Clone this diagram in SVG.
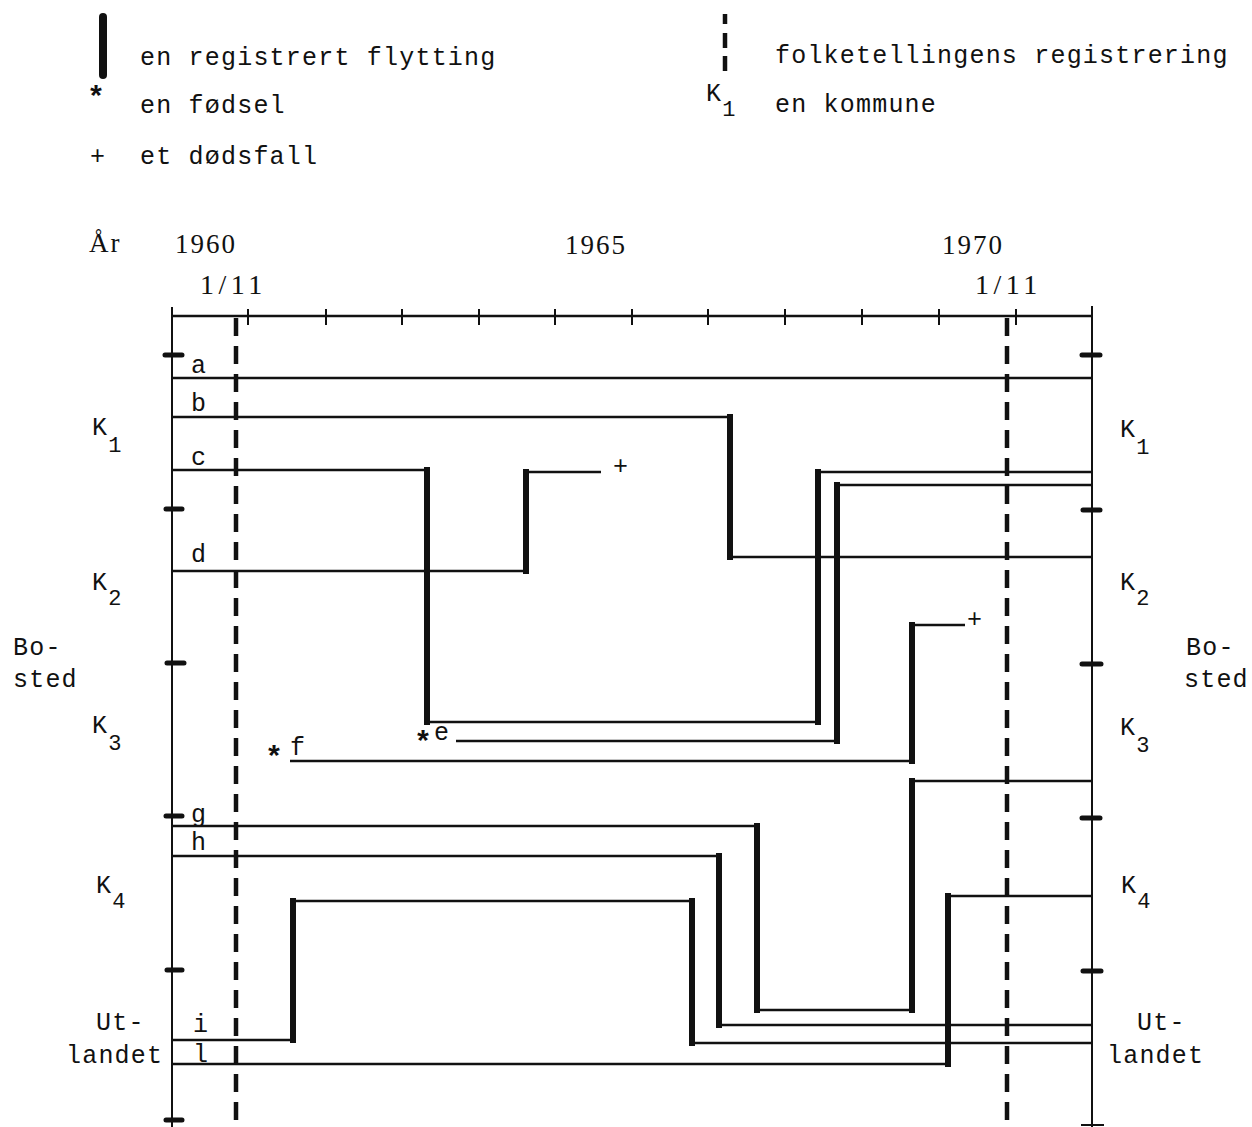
<svg xmlns="http://www.w3.org/2000/svg" width="1252" height="1127" viewBox="0 0 1252 1127">
<style>
.t{font-family:"Liberation Mono",monospace;font-size:25px;letter-spacing:1.2px;fill:#111}
.s{font-family:"Liberation Serif",serif;font-size:27px;letter-spacing:2px;fill:#111}
.d{font-family:"Liberation Serif",serif;font-size:28px;letter-spacing:4.5px;fill:#111}
.ast{font-family:"Liberation Mono",monospace;font-size:30px;font-weight:bold;text-anchor:middle;fill:#111}
.sub{font-size:22px}
.thin{stroke:#111;stroke-width:2.5;fill:none}
.thick{stroke:#111;stroke-width:6;fill:none;stroke-linecap:square}
.dash{stroke:#111;stroke-width:4.5;stroke-dasharray:18 10;fill:none}
.tick{stroke:#111;stroke-width:2;fill:none}
.blob{stroke:#111;stroke-width:5;stroke-linecap:round;fill:none}
</style>
<rect width="1252" height="1127" fill="#fff"/>
<g id="legend">
  <line x1="103" y1="17" x2="103" y2="75" stroke="#111" stroke-width="8" stroke-linecap="round"/>
  <text class="t" x="140" y="65">en registrert flytting</text>
  <text class="ast" x="96" y="107">*</text>
  <text class="t" x="140" y="113">en fødsel</text>
  <text class="t" x="90" y="164">+</text>
  <text class="t" x="140" y="164">et dødsfall</text>
  <line x1="725" y1="14" x2="725" y2="24" stroke="#111" stroke-width="4.5"/>
  <line x1="725" y1="33" x2="725" y2="48" stroke="#111" stroke-width="4.5"/>
  <line x1="725" y1="56" x2="725" y2="71" stroke="#111" stroke-width="4.5"/>
  <text class="t" x="775" y="63">folketellingens registrering</text>
  <text class="t" x="706" y="101">K<tspan class="sub" dy="15">1</tspan></text>
  <text class="t" x="775" y="112">en kommune</text>
</g>
<g id="axis">
  <text class="s" x="89" y="252">År</text>
  <text class="s" x="175" y="253">1960</text>
  <text class="s" x="565" y="254">1965</text>
  <text class="s" x="942" y="254">1970</text>
  <text class="d" x="200" y="294">1/11</text>
  <text class="d" x="975" y="294">1/11</text>
  <line class="thin" x1="172" y1="316" x2="1092" y2="316"/>
  <line class="tick" x1="172" y1="307" x2="172" y2="1127"/>
  <line class="tick" x1="1092" y1="306" x2="1092" y2="1127"/>
  <path class="tick" d="M248,309V325M326,309V325M402,309V325M479,309V325M555,309V325M632,309V325M708,309V325M785,309V325M862,309V325M939,309V325M1016,309V325"/>
  <path class="blob" d="M165,355H182M166,509H182M167,663H184M166,816H182M167,970H182M166,1120H182"/>
  <path class="blob" d="M1082,355H1100M1083,510H1100M1082,664H1101M1082,818H1100M1083,971H1101"/>
  <line class="tick" x1="1081" y1="1125" x2="1104" y2="1125"/>
  <line class="dash" x1="236" y1="318" x2="236" y2="1127"/>
  <line class="dash" x1="1007" y1="318" x2="1007" y2="1127"/>
</g>
<g id="labels-left">
  <text class="t" x="92" y="435">K<tspan class="sub" dy="17">1</tspan></text>
  <text class="t" x="92" y="590">K<tspan class="sub" dy="15">2</tspan></text>
  <text class="t" x="13" y="655">Bo-</text>
  <text class="t" x="13" y="687">sted</text>
  <text class="t" x="92" y="733">K<tspan class="sub" dy="17">3</tspan></text>
  <text class="t" x="96" y="893">K<tspan class="sub" dy="15">4</tspan></text>
  <text class="t" x="96" y="1030">Ut-</text>
  <text class="t" x="66" y="1063">landet</text>
</g>
<g id="labels-right">
  <text class="t" x="1120" y="437">K<tspan class="sub" dy="17">1</tspan></text>
  <text class="t" x="1120" y="590">K<tspan class="sub" dy="15">2</tspan></text>
  <text class="t" x="1186" y="655">Bo-</text>
  <text class="t" x="1184" y="687">sted</text>
  <text class="t" x="1120" y="735">K<tspan class="sub" dy="17">3</tspan></text>
  <text class="t" x="1121" y="893">K<tspan class="sub" dy="15">4</tspan></text>
  <text class="t" x="1137" y="1030">Ut-</text>
  <text class="t" x="1107" y="1063">landet</text>
</g>
<g id="connectors">
  <g id="a">
    <text class="t" x="191" y="373">a</text>
    <path class="thin" d="M172,378H1092"/>
  </g>
  <g id="b">
    <text class="t" x="191" y="411">b</text>
    <path class="thin" d="M172,417H730M730,557H1092"/>
    <path class="thick" d="M730,417V557"/>
  </g>
  <g id="c">
    <text class="t" x="191" y="465">c</text>
    <path class="thin" d="M172,470H427M427,722H818M818,472H1092"/>
    <path class="thick" d="M427,470V722M818,722V472"/>
  </g>
  <g id="d">
    <text class="t" x="191" y="562">d</text>
    <path class="thin" d="M172,571H526M526,472H601"/>
    <path class="thick" d="M526,571V472"/>
    <text class="t" x="613" y="474">+</text>
  </g>
  <g id="e">
    <text class="ast" x="423" y="752">*</text>
    <text class="t" x="434" y="740">e</text>
    <path class="thin" d="M456,741H837M837,485H1092"/>
    <path class="thick" d="M837,741V485"/>
  </g>
  <g id="f">
    <text class="ast" x="274" y="767">*</text>
    <text class="t" x="290" y="755">f</text>
    <path class="thin" d="M290,761H912M912,625H965"/>
    <path class="thick" d="M912,761V625"/>
    <text class="t" x="967" y="627">+</text>
  </g>
  <g id="g">
    <text class="t" x="191" y="822">g</text>
    <path class="thin" d="M172,826H757M757,1010H912M912,781H1092"/>
    <path class="thick" d="M757,826V1010M912,1010V781"/>
  </g>
  <g id="h">
    <text class="t" x="191" y="850">h</text>
    <path class="thin" d="M172,856H719M719,1025H1092"/>
    <path class="thick" d="M719,856V1025"/>
  </g>
  <g id="i">
    <text class="t" x="193" y="1032">i</text>
    <path class="thin" d="M172,1040H293M293,901H692M692,1043H1092"/>
    <path class="thick" d="M293,1040V901M692,901V1043"/>
  </g>
  <g id="l">
    <text class="t" x="193" y="1062">l</text>
    <path class="thin" d="M172,1064H948M948,896H1092"/>
    <path class="thick" d="M948,1064V896"/>
  </g>
</g>
</svg>
